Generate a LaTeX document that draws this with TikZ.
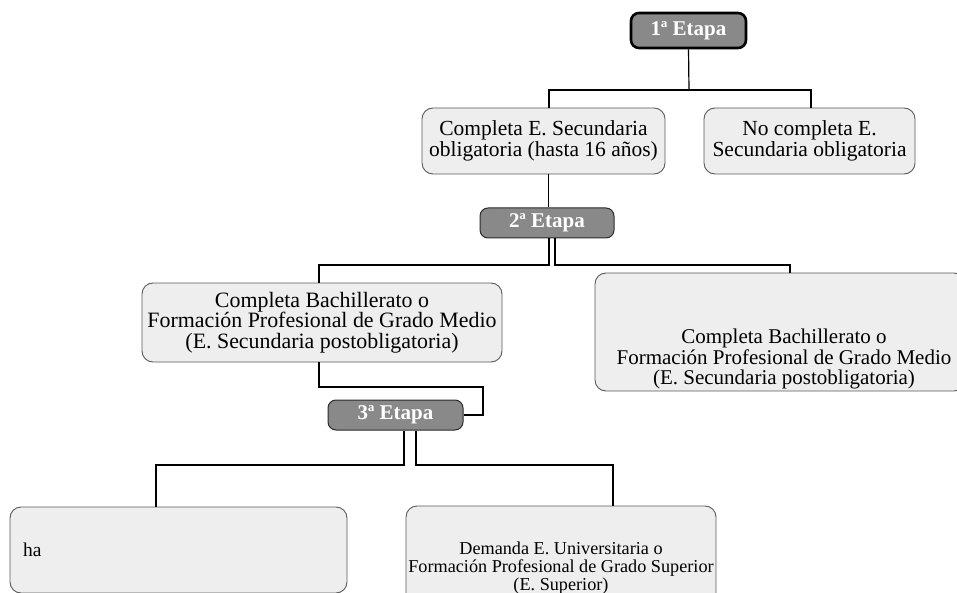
\documentclass[tikz,border=0pt]{standalone}
\usepackage{fontspec}
\setmainfont{Liberation Serif}
\definecolor{boxfill}{HTML}{EEEEEE}
\definecolor{boxline}{HTML}{5A5A5A}
\definecolor{etfill}{HTML}{898989}
\definecolor{etline}{HTML}{2A2A2A}
\begin{document}
\begin{tikzpicture}[x=1pt,y=-1pt,
  box/.style={draw=boxline, fill=boxfill, rounded corners=11pt, line width=0.9pt, align=center, inner sep=0pt, font=\fontsize{21.5}{21}\selectfont},
  etapa/.style={fill=etfill, draw=etline, rounded corners=8pt, line width=1pt, text=white, inner sep=0pt, font=\fontsize{21}{21}\selectfont\bfseries},
  conn/.style={draw=black, line width=1.2pt},
  plain/.style={inner sep=0pt, align=center}]
\useasboundingbox (0,0) rectangle (957,593);
\clip (0,0) rectangle (957,593);

% stage boxes
\node[etapa, draw=black, line width=2.6pt, minimum width=115pt, minimum height=35pt] (e1) at (688.5,30.5) {1ª Etapa};
\node[etapa, minimum width=134pt, minimum height=30pt] (e2) at (547,223) {2ª Etapa};
\node[etapa, minimum width=135pt, minimum height=30pt] (e3) at (395.5,415) {3ª Etapa};

% content boxes
\node[box, minimum width=243pt, minimum height=66pt] (a) at (543.5,141) {Completa E. Secundaria\\obligatoria (hasta 16 años)};
\node[box, minimum width=211pt, minimum height=66pt] (b) at (809.5,141) {No completa E.\\Secundaria obligatoria};
\node[box, minimum width=360pt, minimum height=79pt, font=\fontsize{21.9}{20.5}\selectfont] (c) at (322,322.5) {Completa Bachillerato o\\Formación Profesional de Grado Medio\\(E. Secundaria postobligatoria)};
\node[box, minimum width=370pt, minimum height=118pt] (d) at (780,332) {};
\node[plain, font=\fontsize{21}{20.5}\selectfont] (dt) at (784,359) {Completa Bachillerato o\\Formación Profesional de Grado Medio\\(E. Secundaria postobligatoria)};
\node[box, minimum width=337pt, minimum height=86pt, text width=311pt, align=left, font=\fontsize{19.5}{20}\selectfont] (f) at (178.5,550) {ha};
\node[box, minimum width=310pt, minimum height=124pt, font=\fontsize{18.2}{18}\selectfont] (g) at (561,568) {Demanda E. Universitaria o\\Formación Profesional de Grado Superior\\(E. Superior)};

% junctions
\coordinate (j1) at (689,90);
\coordinate (j2l) at (319,265);
\coordinate (j2r) at (790,265);
\coordinate (j3) at (483,387);
\coordinate (j4l) at (156,465);
\coordinate (j4r) at (613,465);

% connectors
\draw[conn] (e1.south) -- (j1);
\draw[conn] ([xshift=5.5pt]a.north) |- (j1) -| ([xshift=1.5pt]b.north);
\draw[conn] ([xshift=5pt]a.south) -- ([xshift=1.5pt]e2.north);
\draw[conn] ([xshift=2pt]e2.south) |- (j2l) -- (j2l |- c.north);
\draw[conn] ([xshift=8pt]e2.south) |- (j2r) -- (j2r |- d.north);
\draw[conn] ([xshift=-3pt]c.south) |- (j3) |- (e3.east);
\draw[conn] ([xshift=8.5pt]e3.south) |- (j4l) -- (j4l |- f.north);
\draw[conn] ([xshift=20.5pt]e3.south) |- (j4r) -- (j4r |- g.north);
\end{tikzpicture}
\end{document}
